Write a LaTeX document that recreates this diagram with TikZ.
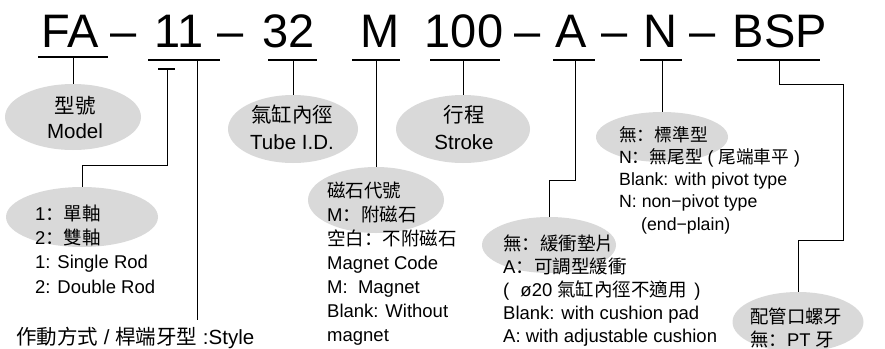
\documentclass[tikz,border=0pt]{standalone}
\usepackage{fontspec}
\setmainfont{Liberation Sans}
\newfontfamily\cjk{Noto Sans CJK TC}
\newfontfamily\cjksc{Noto Sans CJK SC}
\newcommand{\zh}[1]{{\cjk #1}}
\newcommand{\zhc}{{\cjksc ：}}
\usetikzlibrary{shapes.geometric}
\tikzset{
  code/.style = {font=\fontsize{47}{47}\selectfont, anchor=base, inner sep=0pt},
  blob/.style = {ellipse, fill=black!15, inner sep=0pt},
  title/.style = {align=center, anchor=north, inner sep=0pt},
  note/.style = {align=left, anchor=north west, inner sep=0pt},
  bar/.style = {line width=1.3pt},
  link/.style = {line width=1pt}
}

\begin{document}
\begin{tikzpicture}[x=1pt, y=-1pt]
  \useasboundingbox (0,0) rectangle (885,348);
  \clip (0,0) rectangle (885,348);
  % code line
    \node (fa) [code] at (70,47) {FA};
    \node (d1) [code] at (124,47) {–};
    \node (act) [code] at (179,47) {11};
    \node (d2) [code] at (231,47) {–};
    \node (bo) [code] at (289,47) {32};
    \node (mg) [code] at (380,47) {M};
    \node (st) [code] at (464,47) {100};
    \node (d3) [code] at (528,47) {–};
    \node (cu) [code] at (571,47) {A};
    \node (d4) [code] at (615,47) {–};
    \node (pv) [code] at (660,47) {N};
    \node (d5) [code] at (703,47) {–};
    \node (bsp) [code] at (780,47) {BSP};
  % underlines
    \draw [bar] (38,57) -- (108,57);
    \draw [bar] (148,60) -- (220,60);
    \draw [bar] (158,69) -- (175,69);
    \draw [bar] (268,60) -- (317,60);
    \draw [bar] (352,60) -- (400,60);
    \draw [bar] (430,60) -- (500,60);
    \draw [bar] (553,60) -- (595,60);
    \draw [bar] (640,60) -- (682,60);
    \draw [bar] (737,60) -- (820,60);
  % link ends
    \coordinate (faU) at (73,57);
    \coordinate (rodU) at (167,69);
    \coordinate (styU) at (197,60);
    \coordinate (boreU) at (293,60);
    \coordinate (magU) at (376,60);
    \coordinate (strU) at (463,60);
    \coordinate (cuU) at (575,60);
    \coordinate (pivU) at (662,60);
    \coordinate (thrU) at (779,60);
    \coordinate (rodK) at (82,165);
    \coordinate (cuK) at (549,180);
    \coordinate (thrK1) at (843,84);
    \coordinate (thrK2) at (798,240);
  % ellipses
    \node (model) [blob, minimum width=136pt, minimum height=66pt] at (73,117) {};
    \node (rod) [blob, minimum width=152pt, minimum height=60pt] at (82,217) {};
    \node (bore) [blob, minimum width=130pt, minimum height=68pt] at (293,129) {};
    \node (stroke) [blob, minimum width=134pt, minimum height=68pt] at (463,129) {};
    \node (mag) [blob, minimum width=136pt, minimum height=66pt] at (376,200) {};
    \node (cush) [blob, minimum width=134pt, minimum height=56pt] at (549,245) {};
    \node (piv) [blob, minimum width=132pt, minimum height=50pt] at (662,137) {};
    \node (thr) [blob, minimum width=131pt, minimum height=60pt] at (798,322) {};
  % texts
    \node (modelT) [title, font=\fontsize{20.5}{25}\selectfont] at (75,95.5) {\strut\zh{型號}\\Model};
    \node (boreT) [title, font=\fontsize{20.5}{27.5}\selectfont] at (292,102.8) {\strut\zh{氣缸內徑}\\Tube I.D.};
    \node (strokeT) [title, font=\fontsize{20.5}{27.5}\selectfont] at (464,102.8) {\strut\zh{行程}\\Stroke};
    \node (rodT) [note, font=\fontsize{18.5}{24.3}\selectfont] at (35,203) {\strut 1\zhc\zh{單軸}\\2\zhc\zh{雙軸}\\1: Single Rod\\2: Double Rod};
    \node (magT) [note, font=\fontsize{18.5}{24}\selectfont] at (327,180.2) {\strut\zh{磁石代號}\\M\zhc\zh{附磁石}\\\zh{空白}\zhc\zh{不附磁石}\\Magnet Code\\M:~ Magnet\\Blank: Without\\magnet};
    \node (cushT) [note, font=\fontsize{18.5}{23}\selectfont] at (503,233.9) {\strut\zh{無}\zhc\zh{緩衝墊片}\\A\zhc\zh{可調型緩衝}\\(\hspace{.6em}ø20 \zh{氣缸內徑不適用}\hspace{.4em})\\Blank: with cushion pad\\A: with adjustable cushion};
    \node (pivT) [note, font=\fontsize{17.7}{22.2}\selectfont] at (619,125.5) {\strut\zh{無}\zhc\zh{標準型}\\N\zhc\zh{無尾型} ( \zh{尾端車平} )\\Blank: with pivot type\\N: non−pivot type\\\hspace*{22pt}(end−plain)};
    \node (thrT) [note, font=\fontsize{18.4}{20}\selectfont] at (750,308) {\strut\zh{配管口螺牙}\\\zh{無}\zhc PT \zh{牙}};
    \node (style) [anchor=base west, inner sep=0pt, font=\fontsize{20.5}{24}\selectfont] at (16,344) {\zh{作動方式} / \zh{桿端牙型} :Style};
  % links
    \draw [link] (faU) -- (model);
    \draw [link] (rodU) |- (rodK) -- (rod);
    \draw [link] (styU) -- ([yshift=6pt]style.north -| styU);
    \draw [link] (boreU) -- (bore);
    \draw [link] (magU) -- (mag);
    \draw [link] (strU) -- (stroke);
    \draw [link] (cuU) |- (cuK) -- (cush);
    \draw [link] (pivU) -- (piv);
    \draw [link] (thrU) |- (thrK1) |- (thrK2) -- (thr);
\end{tikzpicture}
\end{document}
